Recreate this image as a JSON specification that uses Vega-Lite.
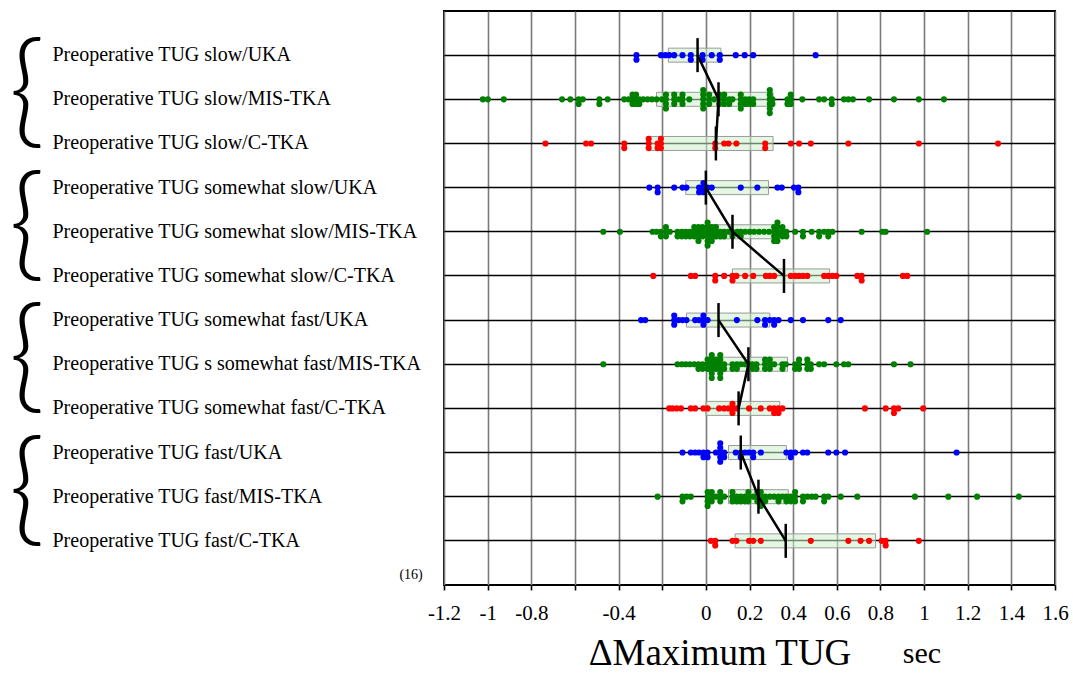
{
"$schema": "https://vega.github.io/schema/vega-lite/v6.json",
"width": 611, "height": 574,
"autosize": {"type": "none"},
"padding": {"left": 444, "top": 11, "right": 18, "bottom": 90},
"background": "white",
"config": {"view": {"stroke": "black", "strokeWidth": 2}, "font": "Liberation Serif"},
"datasets": {
"summary": [
{"row":"slow/UKA","grp":"slow","idx":1,"q1":-0.172,"q3":0.069,"med":-0.038},
{"row":"slow/MIS-TKA","grp":"slow","idx":2,"q1":-0.226,"q3":0.308,"med":0.058},
{"row":"slow/C-TKA","grp":"slow","idx":3,"q1":-0.262,"q3":0.308,"med":0.046},
{"row":"somewhat slow/UKA","grp":"somewhat slow","idx":4,"q1":-0.092,"q3":0.287,"med":0.0},
{"row":"somewhat slow/MIS-TKA","grp":"somewhat slow","idx":5,"q1":0.0,"q3":0.328,"med":0.122},
{"row":"somewhat slow/C-TKA","grp":"somewhat slow","idx":6,"q1":0.122,"q3":0.567,"med":0.358},
{"row":"somewhat fast/UKA","grp":"somewhat fast","idx":7,"q1":-0.089,"q3":0.293,"med":0.058},
{"row":"s somewhat fast/MIS-TKA","grp":"somewhat fast","idx":8,"q1":0.0,"q3":0.374,"med":0.195},
{"row":"somewhat fast/C-TKA","grp":"somewhat fast","idx":9,"q1":0.0,"q3":0.339,"med":0.15},
{"row":"fast/UKA","grp":"fast","idx":10,"q1":0.104,"q3":0.369,"med":0.16},
{"row":"fast/MIS-TKA","grp":"fast","idx":11,"q1":0.104,"q3":0.378,"med":0.241},
{"row":"fast/C-TKA","grp":"fast","idx":12,"q1":0.134,"q3":0.778,"med":0.366}
],
"braces": [{"row":"slow/MIS-TKA"},{"row":"somewhat slow/MIS-TKA"},{"row":"s somewhat fast/MIS-TKA"},{"row":"fast/MIS-TKA"}],
"dots": [
{"row":"slow/UKA","v":-0.318},{"row":"slow/UKA","v":-0.318},{"row":"slow/UKA","v":-0.206},{"row":"slow/UKA","v":-0.186},{"row":"slow/UKA","v":-0.168},{"row":"slow/UKA","v":-0.145},{"row":"slow/UKA","v":-0.107},{"row":"slow/UKA","v":-0.069},{"row":"slow/UKA","v":-0.069},{"row":"slow/UKA","v":-0.015},{"row":"slow/UKA","v":-0.015},{"row":"slow/UKA","v":0.027},{"row":"slow/UKA","v":0.064},{"row":"slow/UKA","v":0.064},{"row":"slow/UKA","v":0.137},{"row":"slow/UKA","v":0.178},{"row":"slow/UKA","v":0.217},{"row":"slow/UKA","v":0.503},
{"row":"slow/MIS-TKA","v":-1.022},{"row":"slow/MIS-TKA","v":-0.999},{"row":"slow/MIS-TKA","v":-0.926},{"row":"slow/MIS-TKA","v":-0.659},{"row":"slow/MIS-TKA","v":-0.621},{"row":"slow/MIS-TKA","v":-0.583},{"row":"slow/MIS-TKA","v":-0.583},{"row":"slow/MIS-TKA","v":-0.564},{"row":"slow/MIS-TKA","v":-0.488},{"row":"slow/MIS-TKA","v":-0.488},{"row":"slow/MIS-TKA","v":-0.45},{"row":"slow/MIS-TKA","v":-0.374},{"row":"slow/MIS-TKA","v":-0.354},{"row":"slow/MIS-TKA","v":-0.336},{"row":"slow/MIS-TKA","v":-0.336},{"row":"slow/MIS-TKA","v":-0.336},{"row":"slow/MIS-TKA","v":-0.32},{"row":"slow/MIS-TKA","v":-0.32},{"row":"slow/MIS-TKA","v":-0.32},{"row":"slow/MIS-TKA","v":-0.305},{"row":"slow/MIS-TKA","v":-0.305},{"row":"slow/MIS-TKA","v":-0.287},{"row":"slow/MIS-TKA","v":-0.267},{"row":"slow/MIS-TKA","v":-0.247},{"row":"slow/MIS-TKA","v":-0.226},{"row":"slow/MIS-TKA","v":-0.201},{"row":"slow/MIS-TKA","v":-0.183},{"row":"slow/MIS-TKA","v":-0.183},{"row":"slow/MIS-TKA","v":-0.183},{"row":"slow/MIS-TKA","v":-0.183},{"row":"slow/MIS-TKA","v":-0.145},{"row":"slow/MIS-TKA","v":-0.145},{"row":"slow/MIS-TKA","v":-0.145},{"row":"slow/MIS-TKA","v":-0.125},{"row":"slow/MIS-TKA","v":-0.107},{"row":"slow/MIS-TKA","v":-0.107},{"row":"slow/MIS-TKA","v":-0.107},{"row":"slow/MIS-TKA","v":-0.076},{"row":"slow/MIS-TKA","v":-0.012},{"row":"slow/MIS-TKA","v":-0.012},{"row":"slow/MIS-TKA","v":-0.012},{"row":"slow/MIS-TKA","v":-0.012},{"row":"slow/MIS-TKA","v":-0.012},{"row":"slow/MIS-TKA","v":0.015},{"row":"slow/MIS-TKA","v":0.015},{"row":"slow/MIS-TKA","v":0.015},{"row":"slow/MIS-TKA","v":0.038},{"row":"slow/MIS-TKA","v":0.061},{"row":"slow/MIS-TKA","v":0.061},{"row":"slow/MIS-TKA","v":0.061},{"row":"slow/MIS-TKA","v":0.084},{"row":"slow/MIS-TKA","v":0.084},{"row":"slow/MIS-TKA","v":0.084},{"row":"slow/MIS-TKA","v":0.107},{"row":"slow/MIS-TKA","v":0.107},{"row":"slow/MIS-TKA","v":0.122},{"row":"slow/MIS-TKA","v":0.16},{"row":"slow/MIS-TKA","v":0.16},{"row":"slow/MIS-TKA","v":0.16},{"row":"slow/MIS-TKA","v":0.16},{"row":"slow/MIS-TKA","v":0.18},{"row":"slow/MIS-TKA","v":0.18},{"row":"slow/MIS-TKA","v":0.198},{"row":"slow/MIS-TKA","v":0.198},{"row":"slow/MIS-TKA","v":0.217},{"row":"slow/MIS-TKA","v":0.217},{"row":"slow/MIS-TKA","v":0.293},{"row":"slow/MIS-TKA","v":0.293},{"row":"slow/MIS-TKA","v":0.293},{"row":"slow/MIS-TKA","v":0.293},{"row":"slow/MIS-TKA","v":0.293},{"row":"slow/MIS-TKA","v":0.293},{"row":"slow/MIS-TKA","v":0.305},{"row":"slow/MIS-TKA","v":0.305},{"row":"slow/MIS-TKA","v":0.374},{"row":"slow/MIS-TKA","v":0.374},{"row":"slow/MIS-TKA","v":0.389},{"row":"slow/MIS-TKA","v":0.389},{"row":"slow/MIS-TKA","v":0.389},{"row":"slow/MIS-TKA","v":0.442},{"row":"slow/MIS-TKA","v":0.519},{"row":"slow/MIS-TKA","v":0.542},{"row":"slow/MIS-TKA","v":0.577},{"row":"slow/MIS-TKA","v":0.577},{"row":"slow/MIS-TKA","v":0.633},{"row":"slow/MIS-TKA","v":0.653},{"row":"slow/MIS-TKA","v":0.674},{"row":"slow/MIS-TKA","v":0.748},{"row":"slow/MIS-TKA","v":0.862},{"row":"slow/MIS-TKA","v":0.976},{"row":"slow/MIS-TKA","v":1.091},
{"row":"slow/C-TKA","v":-0.735},{"row":"slow/C-TKA","v":-0.549},{"row":"slow/C-TKA","v":-0.526},{"row":"slow/C-TKA","v":-0.374},{"row":"slow/C-TKA","v":-0.374},{"row":"slow/C-TKA","v":-0.262},{"row":"slow/C-TKA","v":-0.262},{"row":"slow/C-TKA","v":-0.262},{"row":"slow/C-TKA","v":-0.221},{"row":"slow/C-TKA","v":-0.221},{"row":"slow/C-TKA","v":-0.206},{"row":"slow/C-TKA","v":-0.206},{"row":"slow/C-TKA","v":-0.206},{"row":"slow/C-TKA","v":0.043},{"row":"slow/C-TKA","v":0.043},{"row":"slow/C-TKA","v":0.084},{"row":"slow/C-TKA","v":0.104},{"row":"slow/C-TKA","v":0.14},{"row":"slow/C-TKA","v":0.272},{"row":"slow/C-TKA","v":0.272},{"row":"slow/C-TKA","v":0.389},{"row":"slow/C-TKA","v":0.427},{"row":"slow/C-TKA","v":0.481},{"row":"slow/C-TKA","v":0.653},{"row":"slow/C-TKA","v":0.976},{"row":"slow/C-TKA","v":1.339},
{"row":"somewhat slow/UKA","v":-0.259},{"row":"somewhat slow/UKA","v":-0.221},{"row":"somewhat slow/UKA","v":-0.221},{"row":"somewhat slow/UKA","v":-0.145},{"row":"somewhat slow/UKA","v":-0.107},{"row":"somewhat slow/UKA","v":-0.089},{"row":"somewhat slow/UKA","v":-0.031},{"row":"somewhat slow/UKA","v":-0.031},{"row":"somewhat slow/UKA","v":-0.011},{"row":"somewhat slow/UKA","v":-0.011},{"row":"somewhat slow/UKA","v":-0.011},{"row":"somewhat slow/UKA","v":0.008},{"row":"somewhat slow/UKA","v":0.027},{"row":"somewhat slow/UKA","v":0.16},{"row":"somewhat slow/UKA","v":0.236},{"row":"somewhat slow/UKA","v":0.328},{"row":"somewhat slow/UKA","v":0.348},{"row":"somewhat slow/UKA","v":0.404},{"row":"somewhat slow/UKA","v":0.424},{"row":"somewhat slow/UKA","v":0.424},
{"row":"somewhat slow/MIS-TKA","v":-0.47},{"row":"somewhat slow/MIS-TKA","v":-0.394},{"row":"somewhat slow/MIS-TKA","v":-0.244},{"row":"somewhat slow/MIS-TKA","v":-0.226},{"row":"somewhat slow/MIS-TKA","v":-0.206},{"row":"somewhat slow/MIS-TKA","v":-0.206},{"row":"somewhat slow/MIS-TKA","v":-0.183},{"row":"somewhat slow/MIS-TKA","v":-0.183},{"row":"somewhat slow/MIS-TKA","v":-0.183},{"row":"somewhat slow/MIS-TKA","v":-0.165},{"row":"somewhat slow/MIS-TKA","v":-0.13},{"row":"somewhat slow/MIS-TKA","v":-0.13},{"row":"somewhat slow/MIS-TKA","v":-0.11},{"row":"somewhat slow/MIS-TKA","v":-0.11},{"row":"somewhat slow/MIS-TKA","v":-0.092},{"row":"somewhat slow/MIS-TKA","v":-0.092},{"row":"somewhat slow/MIS-TKA","v":-0.073},{"row":"somewhat slow/MIS-TKA","v":-0.073},{"row":"somewhat slow/MIS-TKA","v":-0.053},{"row":"somewhat slow/MIS-TKA","v":-0.053},{"row":"somewhat slow/MIS-TKA","v":-0.053},{"row":"somewhat slow/MIS-TKA","v":-0.034},{"row":"somewhat slow/MIS-TKA","v":-0.034},{"row":"somewhat slow/MIS-TKA","v":-0.034},{"row":"somewhat slow/MIS-TKA","v":-0.034},{"row":"somewhat slow/MIS-TKA","v":-0.015},{"row":"somewhat slow/MIS-TKA","v":-0.015},{"row":"somewhat slow/MIS-TKA","v":-0.015},{"row":"somewhat slow/MIS-TKA","v":0.008},{"row":"somewhat slow/MIS-TKA","v":0.008},{"row":"somewhat slow/MIS-TKA","v":0.008},{"row":"somewhat slow/MIS-TKA","v":0.008},{"row":"somewhat slow/MIS-TKA","v":0.008},{"row":"somewhat slow/MIS-TKA","v":0.008},{"row":"somewhat slow/MIS-TKA","v":0.027},{"row":"somewhat slow/MIS-TKA","v":0.027},{"row":"somewhat slow/MIS-TKA","v":0.027},{"row":"somewhat slow/MIS-TKA","v":0.027},{"row":"somewhat slow/MIS-TKA","v":0.046},{"row":"somewhat slow/MIS-TKA","v":0.046},{"row":"somewhat slow/MIS-TKA","v":0.046},{"row":"somewhat slow/MIS-TKA","v":0.066},{"row":"somewhat slow/MIS-TKA","v":0.066},{"row":"somewhat slow/MIS-TKA","v":0.084},{"row":"somewhat slow/MIS-TKA","v":0.084},{"row":"somewhat slow/MIS-TKA","v":0.104},{"row":"somewhat slow/MIS-TKA","v":0.122},{"row":"somewhat slow/MIS-TKA","v":0.122},{"row":"somewhat slow/MIS-TKA","v":0.145},{"row":"somewhat slow/MIS-TKA","v":0.16},{"row":"somewhat slow/MIS-TKA","v":0.16},{"row":"somewhat slow/MIS-TKA","v":0.18},{"row":"somewhat slow/MIS-TKA","v":0.201},{"row":"somewhat slow/MIS-TKA","v":0.221},{"row":"somewhat slow/MIS-TKA","v":0.244},{"row":"somewhat slow/MIS-TKA","v":0.267},{"row":"somewhat slow/MIS-TKA","v":0.29},{"row":"somewhat slow/MIS-TKA","v":0.313},{"row":"somewhat slow/MIS-TKA","v":0.313},{"row":"somewhat slow/MIS-TKA","v":0.313},{"row":"somewhat slow/MIS-TKA","v":0.313},{"row":"somewhat slow/MIS-TKA","v":0.328},{"row":"somewhat slow/MIS-TKA","v":0.328},{"row":"somewhat slow/MIS-TKA","v":0.328},{"row":"somewhat slow/MIS-TKA","v":0.328},{"row":"somewhat slow/MIS-TKA","v":0.328},{"row":"somewhat slow/MIS-TKA","v":0.351},{"row":"somewhat slow/MIS-TKA","v":0.351},{"row":"somewhat slow/MIS-TKA","v":0.351},{"row":"somewhat slow/MIS-TKA","v":0.369},{"row":"somewhat slow/MIS-TKA","v":0.369},{"row":"somewhat slow/MIS-TKA","v":0.409},{"row":"somewhat slow/MIS-TKA","v":0.445},{"row":"somewhat slow/MIS-TKA","v":0.445},{"row":"somewhat slow/MIS-TKA","v":0.485},{"row":"somewhat slow/MIS-TKA","v":0.519},{"row":"somewhat slow/MIS-TKA","v":0.519},{"row":"somewhat slow/MIS-TKA","v":0.542},{"row":"somewhat slow/MIS-TKA","v":0.561},{"row":"somewhat slow/MIS-TKA","v":0.561},{"row":"somewhat slow/MIS-TKA","v":0.58},{"row":"somewhat slow/MIS-TKA","v":0.714},{"row":"somewhat slow/MIS-TKA","v":0.809},{"row":"somewhat slow/MIS-TKA","v":0.824},{"row":"somewhat slow/MIS-TKA","v":1.014},
{"row":"somewhat slow/C-TKA","v":-0.241},{"row":"somewhat slow/C-TKA","v":-0.069},{"row":"somewhat slow/C-TKA","v":-0.049},{"row":"somewhat slow/C-TKA","v":0.043},{"row":"somewhat slow/C-TKA","v":0.043},{"row":"somewhat slow/C-TKA","v":0.084},{"row":"somewhat slow/C-TKA","v":0.122},{"row":"somewhat slow/C-TKA","v":0.122},{"row":"somewhat slow/C-TKA","v":0.14},{"row":"somewhat slow/C-TKA","v":0.18},{"row":"somewhat slow/C-TKA","v":0.217},{"row":"somewhat slow/C-TKA","v":0.275},{"row":"somewhat slow/C-TKA","v":0.293},{"row":"somewhat slow/C-TKA","v":0.313},{"row":"somewhat slow/C-TKA","v":0.389},{"row":"somewhat slow/C-TKA","v":0.409},{"row":"somewhat slow/C-TKA","v":0.427},{"row":"somewhat slow/C-TKA","v":0.445},{"row":"somewhat slow/C-TKA","v":0.465},{"row":"somewhat slow/C-TKA","v":0.542},{"row":"somewhat slow/C-TKA","v":0.561},{"row":"somewhat slow/C-TKA","v":0.58},{"row":"somewhat slow/C-TKA","v":0.598},{"row":"somewhat slow/C-TKA","v":0.694},{"row":"somewhat slow/C-TKA","v":0.714},{"row":"somewhat slow/C-TKA","v":0.714},{"row":"somewhat slow/C-TKA","v":0.903},{"row":"somewhat slow/C-TKA","v":0.923},
{"row":"somewhat fast/UKA","v":-0.297},{"row":"somewhat fast/UKA","v":-0.278},{"row":"somewhat fast/UKA","v":-0.145},{"row":"somewhat fast/UKA","v":-0.145},{"row":"somewhat fast/UKA","v":-0.145},{"row":"somewhat fast/UKA","v":-0.125},{"row":"somewhat fast/UKA","v":-0.107},{"row":"somewhat fast/UKA","v":-0.089},{"row":"somewhat fast/UKA","v":-0.049},{"row":"somewhat fast/UKA","v":-0.031},{"row":"somewhat fast/UKA","v":-0.011},{"row":"somewhat fast/UKA","v":-0.011},{"row":"somewhat fast/UKA","v":-0.011},{"row":"somewhat fast/UKA","v":0.008},{"row":"somewhat fast/UKA","v":0.142},{"row":"somewhat fast/UKA","v":0.236},{"row":"somewhat fast/UKA","v":0.271},{"row":"somewhat fast/UKA","v":0.271},{"row":"somewhat fast/UKA","v":0.293},{"row":"somewhat fast/UKA","v":0.313},{"row":"somewhat fast/UKA","v":0.313},{"row":"somewhat fast/UKA","v":0.333},{"row":"somewhat fast/UKA","v":0.389},{"row":"somewhat fast/UKA","v":0.445},{"row":"somewhat fast/UKA","v":0.561},{"row":"somewhat fast/UKA","v":0.618},
{"row":"s somewhat fast/MIS-TKA","v":-0.47},{"row":"s somewhat fast/MIS-TKA","v":-0.13},{"row":"s somewhat fast/MIS-TKA","v":-0.11},{"row":"s somewhat fast/MIS-TKA","v":-0.092},{"row":"s somewhat fast/MIS-TKA","v":-0.073},{"row":"s somewhat fast/MIS-TKA","v":-0.053},{"row":"s somewhat fast/MIS-TKA","v":-0.034},{"row":"s somewhat fast/MIS-TKA","v":-0.034},{"row":"s somewhat fast/MIS-TKA","v":-0.015},{"row":"s somewhat fast/MIS-TKA","v":-0.015},{"row":"s somewhat fast/MIS-TKA","v":0.008},{"row":"s somewhat fast/MIS-TKA","v":0.008},{"row":"s somewhat fast/MIS-TKA","v":0.008},{"row":"s somewhat fast/MIS-TKA","v":0.027},{"row":"s somewhat fast/MIS-TKA","v":0.027},{"row":"s somewhat fast/MIS-TKA","v":0.027},{"row":"s somewhat fast/MIS-TKA","v":0.027},{"row":"s somewhat fast/MIS-TKA","v":0.027},{"row":"s somewhat fast/MIS-TKA","v":0.027},{"row":"s somewhat fast/MIS-TKA","v":0.046},{"row":"s somewhat fast/MIS-TKA","v":0.046},{"row":"s somewhat fast/MIS-TKA","v":0.046},{"row":"s somewhat fast/MIS-TKA","v":0.066},{"row":"s somewhat fast/MIS-TKA","v":0.066},{"row":"s somewhat fast/MIS-TKA","v":0.066},{"row":"s somewhat fast/MIS-TKA","v":0.066},{"row":"s somewhat fast/MIS-TKA","v":0.066},{"row":"s somewhat fast/MIS-TKA","v":0.066},{"row":"s somewhat fast/MIS-TKA","v":0.084},{"row":"s somewhat fast/MIS-TKA","v":0.084},{"row":"s somewhat fast/MIS-TKA","v":0.122},{"row":"s somewhat fast/MIS-TKA","v":0.122},{"row":"s somewhat fast/MIS-TKA","v":0.142},{"row":"s somewhat fast/MIS-TKA","v":0.142},{"row":"s somewhat fast/MIS-TKA","v":0.16},{"row":"s somewhat fast/MIS-TKA","v":0.18},{"row":"s somewhat fast/MIS-TKA","v":0.198},{"row":"s somewhat fast/MIS-TKA","v":0.214},{"row":"s somewhat fast/MIS-TKA","v":0.214},{"row":"s somewhat fast/MIS-TKA","v":0.232},{"row":"s somewhat fast/MIS-TKA","v":0.232},{"row":"s somewhat fast/MIS-TKA","v":0.271},{"row":"s somewhat fast/MIS-TKA","v":0.271},{"row":"s somewhat fast/MIS-TKA","v":0.271},{"row":"s somewhat fast/MIS-TKA","v":0.293},{"row":"s somewhat fast/MIS-TKA","v":0.293},{"row":"s somewhat fast/MIS-TKA","v":0.293},{"row":"s somewhat fast/MIS-TKA","v":0.313},{"row":"s somewhat fast/MIS-TKA","v":0.351},{"row":"s somewhat fast/MIS-TKA","v":0.351},{"row":"s somewhat fast/MIS-TKA","v":0.366},{"row":"s somewhat fast/MIS-TKA","v":0.409},{"row":"s somewhat fast/MIS-TKA","v":0.409},{"row":"s somewhat fast/MIS-TKA","v":0.427},{"row":"s somewhat fast/MIS-TKA","v":0.427},{"row":"s somewhat fast/MIS-TKA","v":0.427},{"row":"s somewhat fast/MIS-TKA","v":0.465},{"row":"s somewhat fast/MIS-TKA","v":0.465},{"row":"s somewhat fast/MIS-TKA","v":0.465},{"row":"s somewhat fast/MIS-TKA","v":0.481},{"row":"s somewhat fast/MIS-TKA","v":0.481},{"row":"s somewhat fast/MIS-TKA","v":0.519},{"row":"s somewhat fast/MIS-TKA","v":0.542},{"row":"s somewhat fast/MIS-TKA","v":0.598},{"row":"s somewhat fast/MIS-TKA","v":0.633},{"row":"s somewhat fast/MIS-TKA","v":0.653},{"row":"s somewhat fast/MIS-TKA","v":0.862},{"row":"s somewhat fast/MIS-TKA","v":0.938},
{"row":"somewhat fast/C-TKA","v":-0.168},{"row":"somewhat fast/C-TKA","v":-0.153},{"row":"somewhat fast/C-TKA","v":-0.134},{"row":"somewhat fast/C-TKA","v":-0.114},{"row":"somewhat fast/C-TKA","v":-0.069},{"row":"somewhat fast/C-TKA","v":-0.049},{"row":"somewhat fast/C-TKA","v":-0.011},{"row":"somewhat fast/C-TKA","v":0.008},{"row":"somewhat fast/C-TKA","v":0.061},{"row":"somewhat fast/C-TKA","v":0.084},{"row":"somewhat fast/C-TKA","v":0.104},{"row":"somewhat fast/C-TKA","v":0.122},{"row":"somewhat fast/C-TKA","v":0.122},{"row":"somewhat fast/C-TKA","v":0.122},{"row":"somewhat fast/C-TKA","v":0.142},{"row":"somewhat fast/C-TKA","v":0.198},{"row":"somewhat fast/C-TKA","v":0.252},{"row":"somewhat fast/C-TKA","v":0.293},{"row":"somewhat fast/C-TKA","v":0.313},{"row":"somewhat fast/C-TKA","v":0.313},{"row":"somewhat fast/C-TKA","v":0.333},{"row":"somewhat fast/C-TKA","v":0.333},{"row":"somewhat fast/C-TKA","v":0.351},{"row":"somewhat fast/C-TKA","v":0.729},{"row":"somewhat fast/C-TKA","v":0.824},{"row":"somewhat fast/C-TKA","v":0.862},{"row":"somewhat fast/C-TKA","v":0.862},{"row":"somewhat fast/C-TKA","v":0.882},{"row":"somewhat fast/C-TKA","v":0.996},
{"row":"fast/UKA","v":-0.107},{"row":"fast/UKA","v":-0.069},{"row":"fast/UKA","v":-0.049},{"row":"fast/UKA","v":-0.031},{"row":"fast/UKA","v":-0.011},{"row":"fast/UKA","v":-0.011},{"row":"fast/UKA","v":0.008},{"row":"fast/UKA","v":0.008},{"row":"fast/UKA","v":0.046},{"row":"fast/UKA","v":0.066},{"row":"fast/UKA","v":0.066},{"row":"fast/UKA","v":0.066},{"row":"fast/UKA","v":0.066},{"row":"fast/UKA","v":0.066},{"row":"fast/UKA","v":0.084},{"row":"fast/UKA","v":0.084},{"row":"fast/UKA","v":0.137},{"row":"fast/UKA","v":0.16},{"row":"fast/UKA","v":0.16},{"row":"fast/UKA","v":0.18},{"row":"fast/UKA","v":0.198},{"row":"fast/UKA","v":0.217},{"row":"fast/UKA","v":0.217},{"row":"fast/UKA","v":0.252},{"row":"fast/UKA","v":0.369},{"row":"fast/UKA","v":0.389},{"row":"fast/UKA","v":0.389},{"row":"fast/UKA","v":0.409},{"row":"fast/UKA","v":0.445},{"row":"fast/UKA","v":0.465},{"row":"fast/UKA","v":0.561},{"row":"fast/UKA","v":0.598},{"row":"fast/UKA","v":0.638},{"row":"fast/UKA","v":1.149},
{"row":"fast/MIS-TKA","v":-0.221},{"row":"fast/MIS-TKA","v":-0.107},{"row":"fast/MIS-TKA","v":-0.107},{"row":"fast/MIS-TKA","v":-0.089},{"row":"fast/MIS-TKA","v":-0.069},{"row":"fast/MIS-TKA","v":0.008},{"row":"fast/MIS-TKA","v":0.008},{"row":"fast/MIS-TKA","v":0.008},{"row":"fast/MIS-TKA","v":0.008},{"row":"fast/MIS-TKA","v":0.027},{"row":"fast/MIS-TKA","v":0.027},{"row":"fast/MIS-TKA","v":0.027},{"row":"fast/MIS-TKA","v":0.046},{"row":"fast/MIS-TKA","v":0.066},{"row":"fast/MIS-TKA","v":0.066},{"row":"fast/MIS-TKA","v":0.066},{"row":"fast/MIS-TKA","v":0.084},{"row":"fast/MIS-TKA","v":0.122},{"row":"fast/MIS-TKA","v":0.122},{"row":"fast/MIS-TKA","v":0.122},{"row":"fast/MIS-TKA","v":0.142},{"row":"fast/MIS-TKA","v":0.142},{"row":"fast/MIS-TKA","v":0.16},{"row":"fast/MIS-TKA","v":0.16},{"row":"fast/MIS-TKA","v":0.18},{"row":"fast/MIS-TKA","v":0.18},{"row":"fast/MIS-TKA","v":0.195},{"row":"fast/MIS-TKA","v":0.195},{"row":"fast/MIS-TKA","v":0.195},{"row":"fast/MIS-TKA","v":0.217},{"row":"fast/MIS-TKA","v":0.236},{"row":"fast/MIS-TKA","v":0.236},{"row":"fast/MIS-TKA","v":0.236},{"row":"fast/MIS-TKA","v":0.252},{"row":"fast/MIS-TKA","v":0.252},{"row":"fast/MIS-TKA","v":0.252},{"row":"fast/MIS-TKA","v":0.252},{"row":"fast/MIS-TKA","v":0.272},{"row":"fast/MIS-TKA","v":0.272},{"row":"fast/MIS-TKA","v":0.293},{"row":"fast/MIS-TKA","v":0.313},{"row":"fast/MIS-TKA","v":0.333},{"row":"fast/MIS-TKA","v":0.333},{"row":"fast/MIS-TKA","v":0.351},{"row":"fast/MIS-TKA","v":0.369},{"row":"fast/MIS-TKA","v":0.369},{"row":"fast/MIS-TKA","v":0.389},{"row":"fast/MIS-TKA","v":0.389},{"row":"fast/MIS-TKA","v":0.409},{"row":"fast/MIS-TKA","v":0.409},{"row":"fast/MIS-TKA","v":0.409},{"row":"fast/MIS-TKA","v":0.445},{"row":"fast/MIS-TKA","v":0.445},{"row":"fast/MIS-TKA","v":0.465},{"row":"fast/MIS-TKA","v":0.485},{"row":"fast/MIS-TKA","v":0.503},{"row":"fast/MIS-TKA","v":0.542},{"row":"fast/MIS-TKA","v":0.542},{"row":"fast/MIS-TKA","v":0.561},{"row":"fast/MIS-TKA","v":0.618},{"row":"fast/MIS-TKA","v":0.694},{"row":"fast/MIS-TKA","v":0.958},{"row":"fast/MIS-TKA","v":1.111},{"row":"fast/MIS-TKA","v":1.243},{"row":"fast/MIS-TKA","v":1.434},
{"row":"fast/C-TKA","v":0.023},{"row":"fast/C-TKA","v":0.043},{"row":"fast/C-TKA","v":0.043},{"row":"fast/C-TKA","v":0.122},{"row":"fast/C-TKA","v":0.14},{"row":"fast/C-TKA","v":0.198},{"row":"fast/C-TKA","v":0.217},{"row":"fast/C-TKA","v":0.252},{"row":"fast/C-TKA","v":0.481},{"row":"fast/C-TKA","v":0.653},{"row":"fast/C-TKA","v":0.709},{"row":"fast/C-TKA","v":0.748},{"row":"fast/C-TKA","v":0.806},{"row":"fast/C-TKA","v":0.824},{"row":"fast/C-TKA","v":0.824},{"row":"fast/C-TKA","v":0.976}
]
},
"layer": [
{
"data": {"name": "summary"},
"mark": {"type": "point", "opacity": 0},
"encoding": {
"x": {"field": "med", "type": "quantitative", "scale": {"domain": [-1.2, 1.6], "nice": false, "zero": false},
"axis": {"title": null, "values": [-1.2,-1,-0.8,-0.6,-0.4,-0.2,0,0.2,0.4,0.6,0.8,1,1.2,1.4,1.6], "grid": true, "gridColor": "#7a7a7a", "gridWidth": 1.6, "domain": false, "tickColor": "black", "tickWidth": 1.6, "tickSize": 5, "labelFont": "Liberation Serif", "labelFontSize": 21, "labelColor": "black", "labelPadding": 12, "labelFlush": false, "labelOverlap": false, "labelExpr": "(datum.value > -0.65 && datum.value < -0.55) || (datum.value > -0.25 && datum.value < -0.15) ? '' : replace(format(datum.value, '~g'), '\u2212', '-')"}},
"y": {"field": "row", "type": "nominal",
"scale": {"domain": ["slow/UKA","slow/MIS-TKA","slow/C-TKA","somewhat slow/UKA","somewhat slow/MIS-TKA","somewhat slow/C-TKA","somewhat fast/UKA","s somewhat fast/MIS-TKA","somewhat fast/C-TKA","fast/UKA","fast/MIS-TKA","fast/C-TKA"], "paddingInner": 0, "paddingOuter": 0.5},
"axis": {"title": null, "ticks": false, "domain": false, "grid": true, "gridColor": "black", "gridWidth": 1.6, "bandPosition": 0.5, "labelAlign": "left", "labelBaseline": "middle", "labelPadding": 392, "labelFont": "Liberation Serif", "labelFontSize": 20, "labelColor": "black", "labelLimit": 600, "labelExpr": "'Preoperative TUG ' + datum.label"}}
}
},
{
"data": {"name": "summary"},
"mark": {"type": "bar", "size": 14, "fill": "#ccf0cc", "fillOpacity": 0.55, "stroke": "#9a9a9a", "strokeWidth": 1},
"encoding": {
"x": {"field": "q1", "type": "quantitative", "axis": {"title": null}},
"x2": {"field": "q3"},
"y": {"field": "row", "type": "nominal", "axis": {"title": null}}
}
},
{
"data": {"name": "dots"},
"transform": [
{"window": [{"op": "row_number", "as": "n"}], "groupby": ["row", "v"]},
{"calculate": "datum.n % 2 == 0 ? datum.n / 2 : -(datum.n - 1) / 2", "as": "off"}
],
"mark": {"type": "circle", "size": 38, "opacity": 1, "yOffset": {"expr": "datum.off * 4.6"}},
"encoding": {
"x": {"field": "v", "type": "quantitative", "axis": {"title": null}},
"y": {"field": "row", "type": "nominal", "axis": {"title": null}},
"color": {"field": "row", "type": "nominal", "legend": null,
"scale": {"domain": ["slow/UKA","slow/MIS-TKA","slow/C-TKA","somewhat slow/UKA","somewhat slow/MIS-TKA","somewhat slow/C-TKA","somewhat fast/UKA","s somewhat fast/MIS-TKA","somewhat fast/C-TKA","fast/UKA","fast/MIS-TKA","fast/C-TKA"],
"range": ["#0000ff","#008000","#ff0000","#0000ff","#008000","#ff0000","#0000ff","#008000","#ff0000","#0000ff","#008000","#ff0000"]}}
}
},
{
"data": {"name": "summary"},
"mark": {"type": "line", "color": "black", "strokeWidth": 2.5},
"encoding": {
"x": {"field": "med", "type": "quantitative", "axis": {"title": null}},
"y": {"field": "row", "type": "nominal", "axis": {"title": null}},
"detail": {"field": "grp"},
"order": {"field": "idx"}
}
},
{
"data": {"name": "summary"},
"mark": {"type": "tick", "color": "black", "thickness": 2.5, "size": 34, "opacity": 1},
"encoding": {
"x": {"field": "med", "type": "quantitative", "axis": {"title": null}},
"y": {"field": "row", "type": "nominal", "axis": {"title": null}}
}
},
{
"data": {"name": "braces"},
"mark": {"type": "text", "text": "{", "font": "Lato", "fontWeight": 300, "fontSize": 124, "align": "center", "baseline": "middle", "color": "black", "dy": -4},
"encoding": {"x": {"datum": -3.112, "type": "quantitative", "axis": {"title": null}}, "y": {"field": "row", "type": "nominal", "axis": {"title": null}}}
},
{
"data": {"values": [{}]},
"mark": {"type": "text", "text": "(16)", "font": "Liberation Serif", "fontSize": 14, "align": "center", "baseline": "middle", "color": "black", "dy": 34},
"encoding": {
"x": {"datum": -1.351, "type": "quantitative", "axis": {"title": null}},
"y": {"datum": "fast/C-TKA", "type": "nominal", "axis": {"title": null}}
}
},
{
"data": {"values": [{}]},
"mark": {"type": "text", "text": "\u0394Maximum TUG", "font": "Liberation Serif", "fontSize": 37, "align": "center", "baseline": "alphabetic", "color": "black", "dy": 124},
"encoding": {
"x": {"datum": 0.065, "type": "quantitative", "axis": {"title": null}},
"y": {"datum": "fast/C-TKA", "type": "nominal", "axis": {"title": null}}
}
},
{
"data": {"values": [{}]},
"mark": {"type": "text", "text": "sec", "font": "Liberation Serif", "fontSize": 30, "align": "center", "baseline": "alphabetic", "color": "black", "dy": 122},
"encoding": {
"x": {"datum": 0.99, "type": "quantitative", "axis": {"title": null}},
"y": {"datum": "fast/C-TKA", "type": "nominal", "axis": {"title": null}}
}
}
]
}
